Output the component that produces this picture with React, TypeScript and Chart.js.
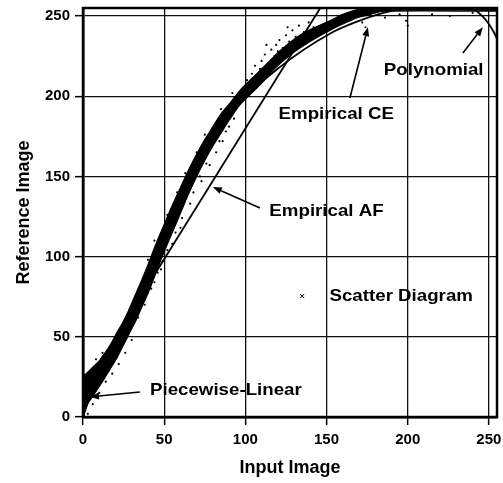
import React, { useEffect, useRef } from "react";
import { Chart, registerables } from "chart.js";
Chart.register(...registerables);

const xTicks = [0, 50, 100, 150, 200, 250];
const yTicks = [0, 50, 100, 150, 200, 250];
const axisMax = 255;
const xTitle = "Input Image";
const yTitle = "Reference Image";

// scatter band (lower / upper envelope of the dense scatter cloud)
const bandX = [0, 2, 4, 6, 8, 10, 12, 15, 18, 21, 24, 27, 30, 33, 36, 40, 45, 50, 55, 60, 65, 70, 75, 80, 85, 90, 97, 105, 110, 115, 121, 128, 135, 143, 152, 160, 169, 177, 185, 255];
const bandLow = [4, 7, 10, 13, 16, 19, 22, 27, 32, 37, 43, 49, 55, 61, 68, 77, 90, 103, 115, 127, 139, 150, 160, 169, 177, 185, 195, 203, 208, 214, 220, 226, 231, 236, 241, 245, 249, 251, 253, 253];
const bandHigh = [26, 27, 29, 31, 33, 35, 38, 42, 47, 53, 58, 64, 71, 78, 85, 95, 108, 120, 132, 143, 154, 164, 173, 181, 189, 195, 204, 212, 217, 222, 228, 234, 239, 243, 247, 251, 254, 255, 255, 256];

// stray scatter points
const strayX = [101, 104, 106, 108, 110, 112, 114, 116, 118, 119, 121, 123, 125, 127, 129, 131, 133, 136, 139, 142, 113, 126, 120, 109, 34, 38, 42, 46, 49, 52, 57, 61, 68, 72, 76, 84, 88, 93, 3, 6, 10, 14, 18, 22, 26, 30, 8, 12, 20, 28, 31, 40, 44, 52, 58, 63, 70, 75, 85, 92, 172, 174, 186, 199, 200, 215, 226, 240, 195, 55, 60, 66, 73, 78, 82, 86, 90, 44, 48];
const strayY = [210, 214, 219, 213, 222, 226, 220, 229, 225, 232, 235, 230, 238, 234, 241, 237, 244, 240, 246, 243, 232, 243, 228, 217, 62, 70, 80, 90, 97, 104, 115, 124, 140, 150, 158, 172, 178, 186, 2, 8, 15, 22, 27, 33, 40, 48, 36, 40, 50, 64, 72, 98, 110, 126, 140, 152, 165, 176, 192, 202, 246, 243, 249, 247, 244, 251, 250, 252, 251, 108, 118, 133, 147, 157, 165, 172, 181, 84, 92];

// fitted curves
const ceX = [0, 10, 24, 45, 65, 80, 97, 121, 152, 170, 185, 200, 255];
const ceY = [8, 24, 48, 99, 147, 172, 196, 218, 239, 247, 252, 254.5, 255];
const polyX = [0, 10, 20, 30, 45, 65, 80, 97, 115, 135, 152, 170, 190, 215, 232, 240, 246, 250, 253, 255];
const polyY = [12, 27, 44, 63, 100, 147, 175, 199, 218, 235, 244, 251, 254.5, 256, 256, 254.5, 250, 245, 240, 236];
const afX = [0, 148];
const afY = [17, 258];
const plX = [0, 4, 27, 45, 65, 97, 135, 175, 200, 255];
const plY = [0, 12, 55, 100, 147, 199, 235, 253, 255, 255];

// annotations (data coordinates)
const labelTexts = ["Polynomial", "Empirical CE", "Empirical AF", "Scatter Diagram", "Piecewise-Linear"];
const labelX = [216, 156, 150, 196, 88];
const labelY = [216, 188.5, 128.5, 75, 16.5];
const arrowFromX = [234, 164.4, 109, 35];
const arrowFromY = [227, 198.9, 130.3, 15.6];
const arrowToX = [246.3, 175.5, 80, 4.3];
const arrowToY = [243, 243, 143.4, 12.5];
const markerX = [135];
const markerY = [75.4];

const FONT = '"Liberation Sans", Arial, sans-serif';

const pts = (xs: number[], ys: number[]) => xs.map((x, i) => ({ x, y: ys[i] }));

const annotPlugin = {
  id: "annot",
  afterDatasetsDraw(chart: any) {
    const { ctx, chartArea: a, scales } = chart;
    const xs = scales.x, ys = scales.y;
    ctx.save();
    // frame
    ctx.strokeStyle = "#000";
    ctx.lineWidth = 2.5;
    ctx.strokeRect(a.left, a.top, a.right - a.left, a.bottom - a.top);
    // arrows
    ctx.lineWidth = 1.6;
    ctx.fillStyle = "#000";
    for (let i = 0; i < arrowFromX.length; i++) {
      const x0 = xs.getPixelForValue(arrowFromX[i]);
      const y0 = ys.getPixelForValue(arrowFromY[i]);
      const x1 = xs.getPixelForValue(arrowToX[i]);
      const y1 = ys.getPixelForValue(arrowToY[i]);
      const ang = Math.atan2(y1 - y0, x1 - x0);
      const hl = 9, hw = 3.5;
      const bx = x1 - hl * Math.cos(ang), by = y1 - hl * Math.sin(ang);
      ctx.beginPath();
      ctx.moveTo(x0, y0);
      ctx.lineTo(bx, by);
      ctx.stroke();
      ctx.beginPath();
      ctx.moveTo(x1, y1);
      ctx.lineTo(bx + hw * Math.sin(ang), by - hw * Math.cos(ang));
      ctx.lineTo(bx - hw * Math.sin(ang), by + hw * Math.cos(ang));
      ctx.closePath();
      ctx.fill();
    }
    // marker
    for (let i = 0; i < markerX.length; i++) {
      const mx = xs.getPixelForValue(markerX[i]);
      const my = ys.getPixelForValue(markerY[i]);
      ctx.lineWidth = 1;
      ctx.beginPath();
      ctx.moveTo(mx - 2, my - 2);
      ctx.lineTo(mx + 2, my + 2);
      ctx.moveTo(mx - 2, my + 2);
      ctx.lineTo(mx + 2, my - 2);
      ctx.stroke();
    }
    // labels
    ctx.font = `bold 17px ${FONT}`;
    ctx.textAlign = "center";
    ctx.textBaseline = "middle";
    for (let i = 0; i < labelTexts.length; i++) {
      const px = xs.getPixelForValue(labelX[i]);
      const py = ys.getPixelForValue(labelY[i]);
      ctx.save();
      ctx.translate(px, py);
      ctx.scale(1.1, 1);
      ctx.fillStyle = "#000";
      ctx.fillText(labelTexts[i], 0, 0);
      ctx.restore();
    }
    ctx.restore();
  },
};

export default function App() {
  const ref = useRef<HTMLCanvasElement | null>(null);
  useEffect(() => {
    document.body.style.margin = "0";
    const canvas = ref.current!;
    const lineDs = (label: string, xs: number[], ys: number[], extra: any = {}) => ({
      label,
      data: pts(xs, ys),
      showLine: true,
      borderColor: "#000",
      backgroundColor: "#000",
      borderWidth: 1.8,
      pointRadius: 0,
      ...extra,
    });
    const chart = new Chart(canvas, {
      type: "scatter",
      data: {
        datasets: [
          lineDs("band-low", bandX, bandLow, { borderWidth: 1.2, tension: 0.3, fill: false }),
          lineDs("Scatter Diagram", bandX, bandHigh, { borderWidth: 1.2, tension: 0.3, fill: "-1", backgroundColor: "#000" }),
          {
            label: "stray",
            data: pts(strayX, strayY),
            showLine: false,
            pointRadius: 1.1,
            pointBackgroundColor: "#000",
            pointBorderWidth: 0,
          },
          lineDs("Empirical CE", ceX, ceY, { cubicInterpolationMode: "monotone" }),
          lineDs("Polynomial", polyX, polyY, { cubicInterpolationMode: "monotone" }),
          lineDs("Empirical AF", afX, afY),
          lineDs("Piecewise-Linear", plX, plY),
        ],
      },
      options: {
        animation: false,
        responsive: false,
        events: [],
        layout: { padding: { left: 0, top: 8, right: 6, bottom: 0 } },
        plugins: { legend: { display: false }, tooltip: { enabled: false } },
        scales: {
          x: {
            type: "linear",
            min: 0,
            max: axisMax,
            afterBuildTicks: (s: any) => { s.ticks = xTicks.map((v) => ({ value: v })); },
            afterFit: (s: any) => { s.height = 66; s.paddingRight = 6; s.paddingLeft = 0; },
            grid: { color: "#111", lineWidth: 1.3, tickLength: 8, tickColor: "#000", tickWidth: 1.5 },
            border: { display: true, color: "#000", width: 2.5 },
            ticks: { color: "#000", padding: 6, maxRotation: 0, minRotation: 0, font: { family: FONT, size: 15, weight: "bold" } },
            title: { display: true, text: xTitle, color: "#000", padding: { top: 0, bottom: 4 }, font: { family: FONT, size: 18, weight: "bold" } },
          },
          y: {
            type: "linear",
            min: 0,
            max: axisMax,
            afterBuildTicks: (s: any) => { s.ticks = yTicks.map((v) => ({ value: v })); },
            afterFit: (s: any) => { s.width = 83; s.paddingTop = 0; s.paddingBottom = 0; },
            grid: { color: "#111", lineWidth: 1.3, tickLength: 8, tickColor: "#000", tickWidth: 1.5 },
            border: { display: true, color: "#000", width: 2.5 },
            ticks: { color: "#000", padding: 5, font: { family: FONT, size: 15, weight: "bold" } },
            title: { display: true, text: yTitle, color: "#000", padding: { top: 13, bottom: 0 }, font: { family: FONT, size: 18, weight: "bold" } },
          },
        },
      },
      plugins: [annotPlugin],
    } as any);
    return () => chart.destroy();
  }, []);
  return (
    <div style={{ width: 503, height: 483 }}>
      <canvas ref={ref} width={503} height={483} style={{ display: "block" }} />
    </div>
  );
}
